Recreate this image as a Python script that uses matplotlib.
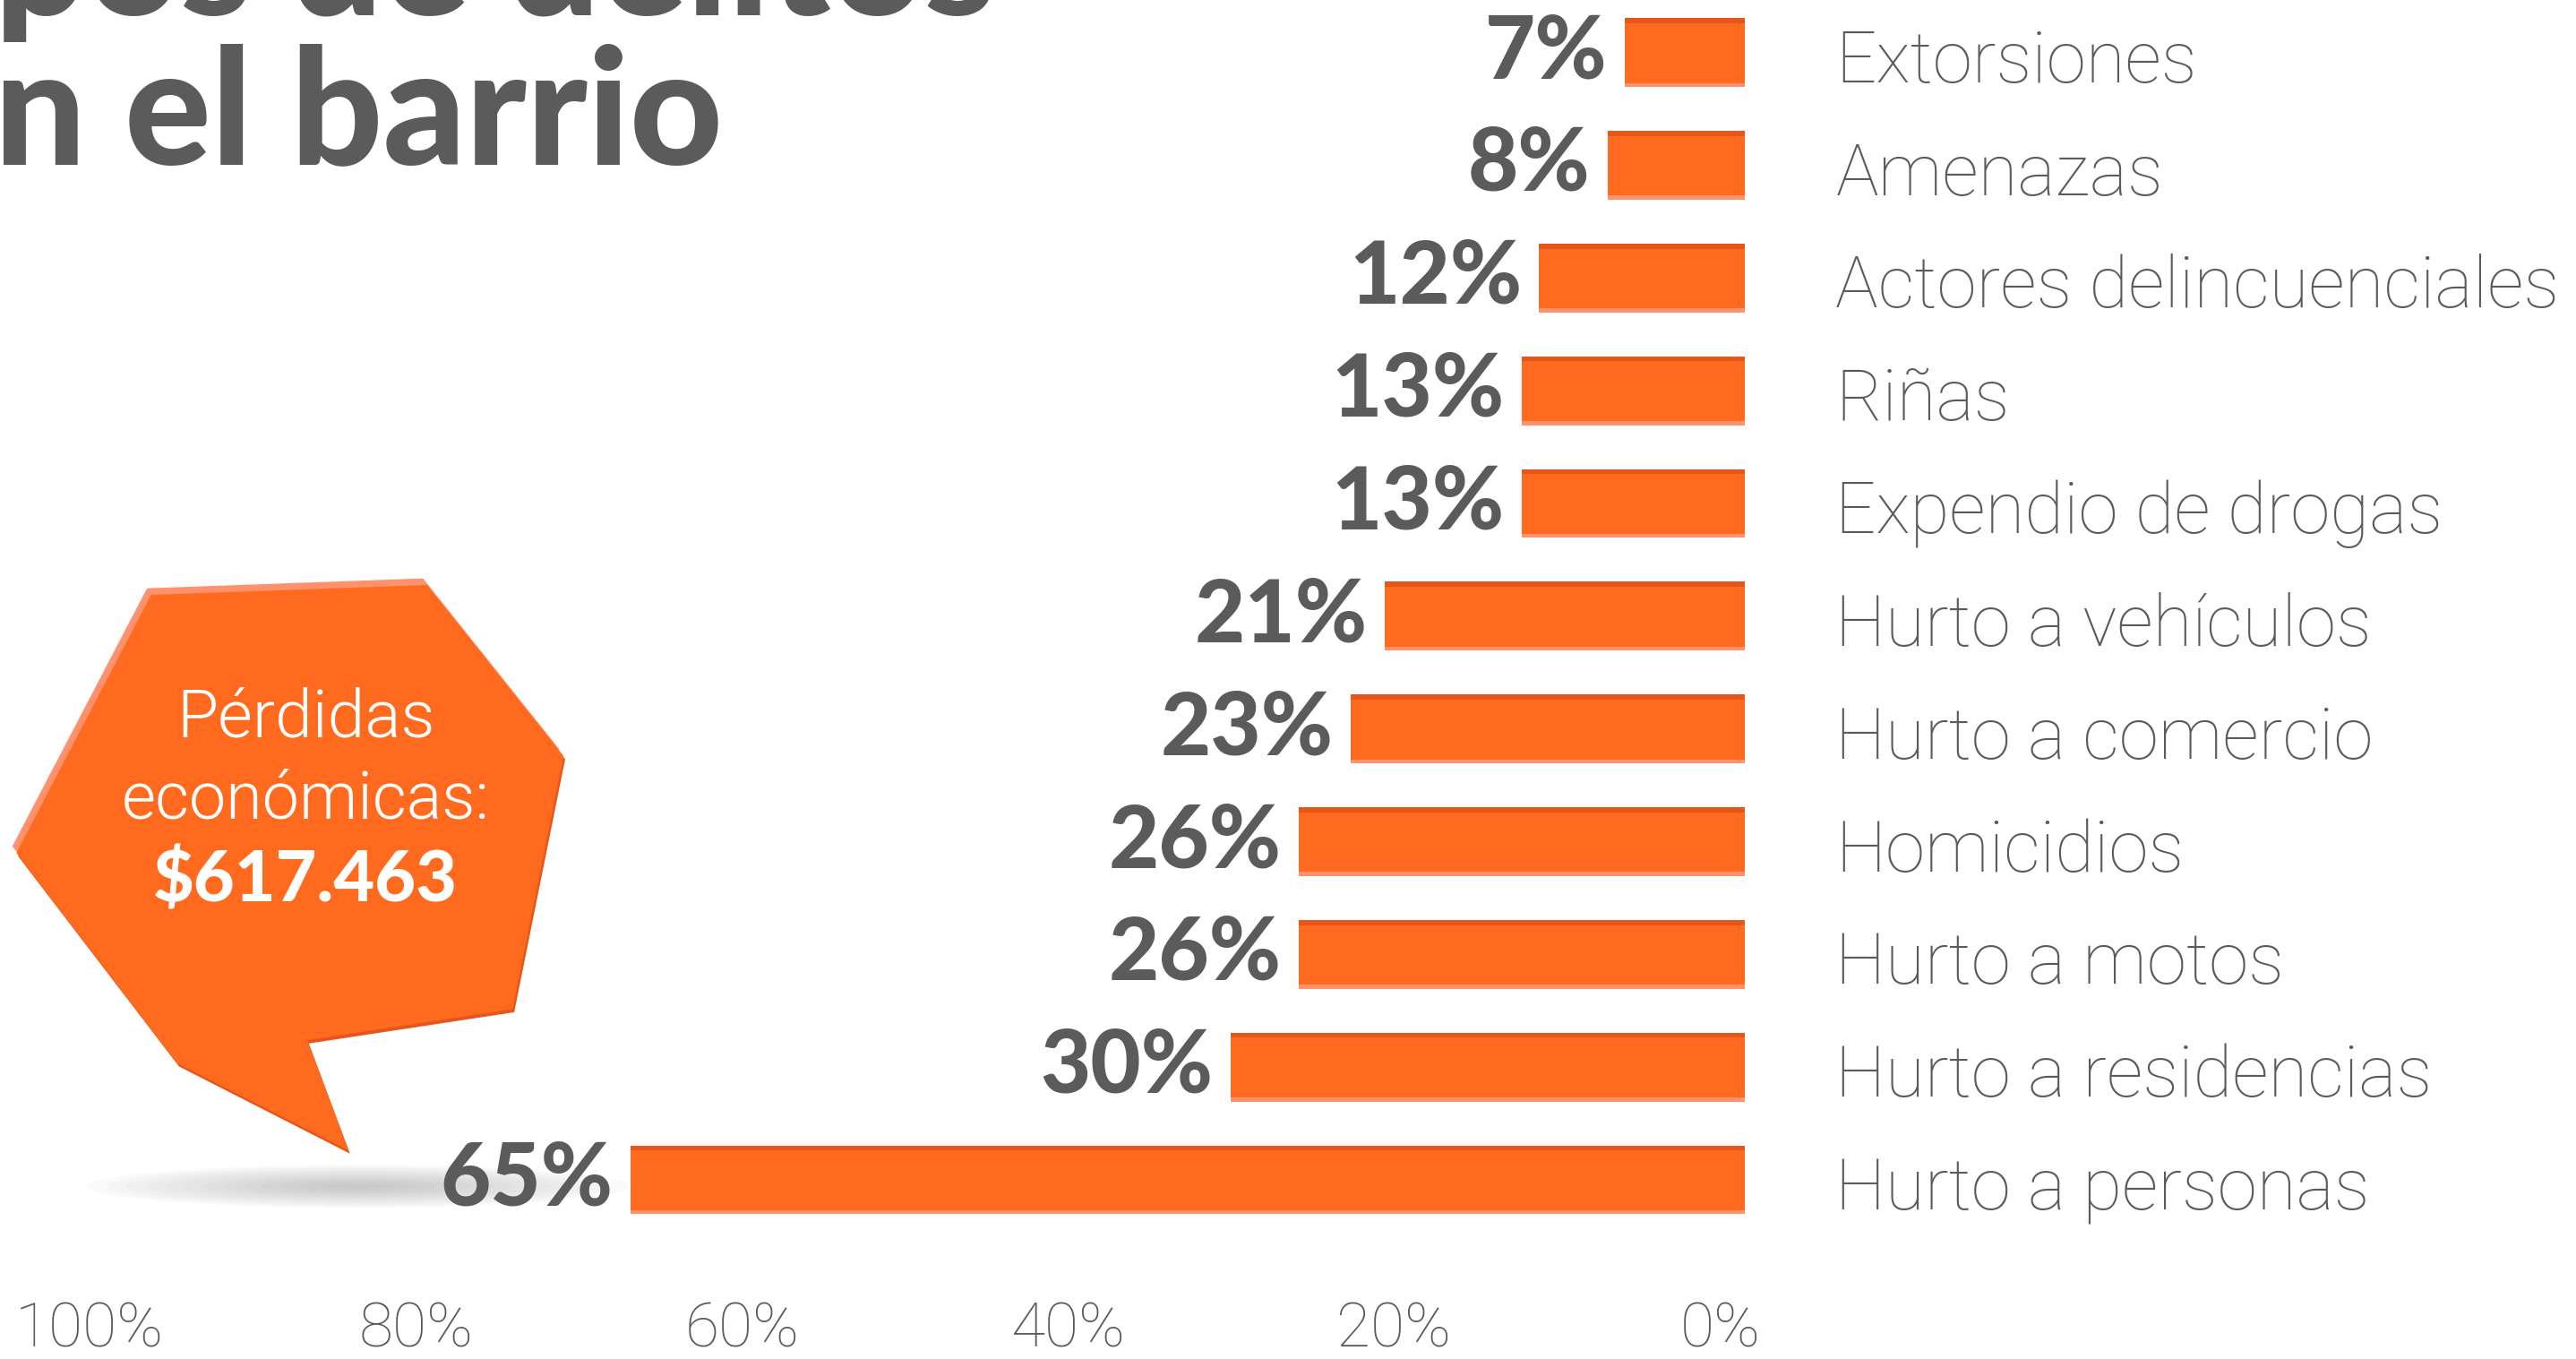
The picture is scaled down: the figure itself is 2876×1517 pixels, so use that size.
import matplotlib
matplotlib.use("Agg")
import matplotlib.pyplot as plt
from matplotlib.patches import Polygon, Ellipse

# ---------------- data ----------------
categories = ["Hurto a personas", "Hurto a residencias", "Hurto a motos", "Homicidios",
              "Hurto a comercio", "Hurto a vehículos", "Expendio de drogas", "Riñas",
              "Actores delincuenciales", "Amenazas", "Extorsiones"]
values = [65, 30, 26, 26, 23, 21, 13, 13, 12, 8, 7]
value_labels = ["65%", "30%", "26%", "26%", "23%", "21%", "13%", "13%", "12%", "8%", "7%"]
tick_values = [100, 80, 60, 40, 20, 0]
tick_labels = ["100%", "80%", "60%", "40%", "20%", "0%"]
title_lines = ["Tipos de delitos", "en el barrio"]
callout_lines = ["Pérdidas", "económicas:"]
callout_amount = "$617.463"

# ---------------- style ----------------
ORANGE = "#FF6A1F"
ORANGE_DARK = "#E4561A"
ORANGE_LIGHT = "#FF916C"
GREY = "#5B5B5B"
THIN = ["Roboto", "DejaVu Sans"]
HEAVY = ["Lato", "DejaVu Sans"]

fig = plt.figure(figsize=(28.76, 15.17), dpi=100)
fig.patch.set_facecolor("white")

# decoration overlay in reference (1568x827) coordinates
deco = fig.add_axes([0, 0, 1, 1], zorder=0)
deco.set_xlim(0, 1568)
deco.set_ylim(827, 0)
deco.axis("off")

# main bar axes
ax = fig.add_axes([0, 0, 1, 1], zorder=2)
ax.patch.set_alpha(0)
ax.set_xlim(101.8, -48.5)
ax.set_ylim(-1.589, 10.466)
ax.axis("off")

ypos = list(range(len(categories)))
h = 0.61
ax.barh(ypos, values, height=h, color=ORANGE, linewidth=0, zorder=2)
strip_top = 0.045
strip_bot = 0.035
ax.barh([y + h / 2 - strip_top / 2 for y in ypos], values, height=strip_top,
        color=ORANGE_DARK, linewidth=0, zorder=3)
ax.barh([y - h / 2 + strip_bot / 2 for y in ypos], values, height=strip_bot,
        color=ORANGE_LIGHT, linewidth=0, zorder=3)

for y, v, lab in zip(ypos, values, value_labels):
    ax.annotate(lab, xy=(v, y), xytext=(-14, 0), textcoords="offset points",
                ha="right", va="center", fontsize=70, fontweight="black",
                family=HEAVY, color=GREY, zorder=4)

for y, cat in zip(ypos, categories):
    ax.text(-5.3, y - 0.09, cat, ha="left", va="center", fontsize=57.5,
            fontweight=100, family=THIN, color=GREY, zorder=4)

# tick axis
ax2 = fig.add_axes([0, 0.043, 1, 0.0001], zorder=1)
ax2.set_xlim(105.5, -52.5)
ax2.set_xticks(tick_values)
ax2.set_xticklabels(tick_labels, fontsize=50, fontweight=100, family=THIN, color=GREY)
ax2.tick_params(axis="x", length=0, pad=0)
ax2.set_yticks([])
for s in ax2.spines.values():
    s.set_visible(False)
ax2.patch.set_alpha(0)

# title (cropped at top-left as in the reference)
deco.text(606, 9, title_lines[0], ha="right", va="baseline", fontsize=130,
          fontweight="black", family=HEAVY, color=GREY)
deco.text(440, 100, title_lines[1], ha="right", va="baseline", fontsize=130,
          fontweight="black", family=HEAVY, color=GREY)

# shadow under the callout tail
for k in range(14):
    f = 1 - k / 14
    deco.add_patch(Ellipse((218, 722), 330 * f, 26 * f, color="#808080",
                           alpha=0.035, linewidth=0, zorder=1))

# callout
shape = [(92, 362), (260, 356), (343, 460), (312, 614), (187, 633),
         (212, 700), (108, 647), (10, 519)]
dark = [(x + 1, y + 2) for x, y in shape]
light = [(x - 2.5, y - 4) for x, y in shape]
deco.add_patch(Polygon(dark, closed=True, color=ORANGE_DARK, linewidth=0, zorder=2))
deco.add_patch(Polygon(light, closed=True, color=ORANGE_LIGHT, linewidth=0, zorder=2))
deco.add_patch(Polygon(shape, closed=True, color=ORANGE, linewidth=0, zorder=3))

deco.text(186, 437, callout_lines[0], ha="center", va="center", fontsize=54,
          fontweight=300, family=THIN, color="white", zorder=4)
deco.text(186, 487, callout_lines[1], ha="center", va="center", fontsize=53,
          fontweight=300, family=THIN, color="white", zorder=4)
deco.text(186, 536, callout_amount, ha="center", va="center", fontsize=57,
          fontweight="black", family=HEAVY, color="white", zorder=4)

fig.savefig("out.png", dpi=100, facecolor="white")
